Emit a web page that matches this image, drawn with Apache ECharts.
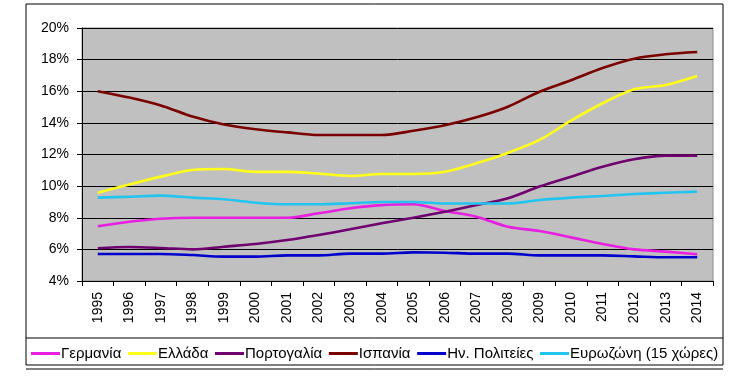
<!DOCTYPE html>
<html>
<head>
<meta charset="utf-8">
<script src="https://cdn.jsdelivr.net/npm/echarts@6/dist/echarts.min.js"></script>
<style>
  html, body { margin: 0; padding: 0; background: #fff; }
  #chart { width: 756px; height: 377px; }
</style>
</head>
<body>
<div id="chart"></div>
<script>
const years = ['1995', '1996', '1997', '1998', '1999', '2000', '2001', '2002', '2003', '2004',
  '2005', '2006', '2007', '2008', '2009', '2010', '2011', '2012', '2013', '2014']

const germany = [7.46, 7.75, 7.94, 8.0, 8.0, 8.0, 8.0, 8.28, 8.6, 8.8, 8.85, 8.43, 8.07, 7.43, 7.16, 6.76, 6.34, 6.0, 5.86, 5.69]
const greece = [9.58, 10.1, 10.6, 11.02, 11.08, 10.9, 10.9, 10.8, 10.64, 10.77, 10.77, 10.91, 11.44, 12.1, 12.92, 14.14, 15.24, 16.12, 16.4, 16.97]
const portugal = [6.07, 6.15, 6.09, 6.0, 6.17, 6.34, 6.59, 6.91, 7.27, 7.65, 8.0, 8.38, 8.8, 9.23, 9.97, 10.6, 11.23, 11.7, 11.93, 11.93]
const spain = [16.0, 15.6, 15.1, 14.4, 13.9, 13.6, 13.4, 13.23, 13.23, 13.23, 13.5, 13.85, 14.35, 15.02, 15.97, 16.7, 17.47, 18.06, 18.34, 18.48]
const usa = [5.71, 5.71, 5.71, 5.64, 5.54, 5.54, 5.62, 5.62, 5.73, 5.73, 5.81, 5.79, 5.73, 5.73, 5.62, 5.62, 5.62, 5.56, 5.5, 5.5]
const eurozone = [9.27, 9.33, 9.4, 9.27, 9.17, 8.95, 8.85, 8.85, 8.92, 9.0, 9.0, 8.9, 8.9, 8.9, 9.12, 9.27, 9.38, 9.5, 9.58, 9.65]

const seriesNames = ['Γερμανία', 'Ελλάδα', 'Πορτογαλία', 'Ισπανία', 'Ην. Πολιτείες', 'Ευρωζώνη (15 χώρες)']
const seriesData = [germany, greece, portugal, spain, usa, eurozone]
const colors = ['#E81EE0', '#FFFF1A', '#700070', '#7A0000', '#0000CC', '#22C4F0']

const font = '"Liberation Sans", Arial, sans-serif'

const chart = echarts.init(document.getElementById('chart'))

chart.setOption({
  animation: false,
  color: colors,
  textStyle: { fontFamily: font },
  grid: {
    left: 82, right: 43, top: 28, bottom: 96,
    show: true,
    backgroundColor: '#C0C0C0',
    borderColor: '#8c8c8c',
    borderWidth: 1
  },
  legend: {
    data: seriesNames,
    left: 26,
    top: 341,
    icon: 'rect',
    itemWidth: 29,
    itemHeight: 3,
    itemGap: 6.6,
    textStyle: { fontSize: 15, color: '#000', fontFamily: font, padding: [0, 0, 0, -4] }
  },
  xAxis: {
    type: 'category',
    data: years,
    boundaryGap: true,
    axisLine: { lineStyle: { color: '#000', width: 1 } },
    axisTick: { show: true, length: 5, lineStyle: { color: '#000' } },
    axisLabel: { rotate: 90, fontSize: 14, color: '#000', margin: 11, interval: 0 },
    splitLine: { show: false }
  },
  yAxis: {
    type: 'value',
    min: 4,
    max: 20,
    interval: 2,
    axisLine: { show: true, lineStyle: { color: '#000', width: 1 } },
    axisTick: { show: true, length: 5, lineStyle: { color: '#000' } },
    axisLabel: { fontSize: 14, color: '#000', margin: 13, formatter: '{value}%' },
    splitLine: { show: true, lineStyle: { color: '#000', width: 1 } }
  },
  graphic: [
    { type: 'rect', shape: { x: 26, y: 4, width: 697, height: 361 }, style: { fill: 'none', stroke: '#000', lineWidth: 1 }, silent: true, z: -1 },
    { type: 'line', shape: { x1: 26, y1: 338, x2: 723, y2: 338 }, style: { stroke: '#000', lineWidth: 1 }, silent: true },
    { type: 'line', shape: { x1: 26, y1: 369, x2: 723, y2: 369 }, style: { stroke: '#000', lineWidth: 1 }, silent: true }
  ],
  series: seriesNames.map((name, i) => ({
    name,
    type: 'line',
    data: seriesData[i],
    smooth: 0.3,
    symbol: 'none',
    lineStyle: { width: 2.6, color: colors[i] }
  }))
})
</script>
</body>
</html>
